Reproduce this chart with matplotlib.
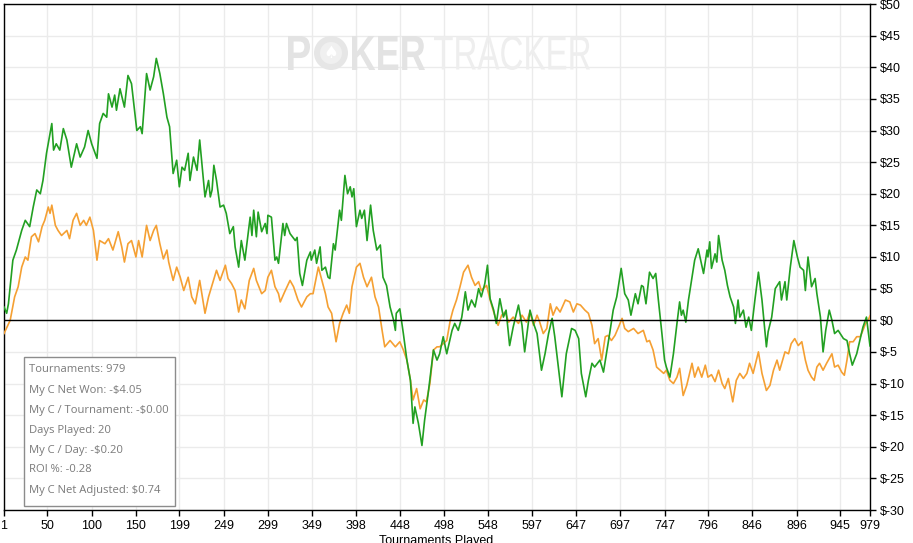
import numpy as np
import matplotlib
matplotlib.use('Agg')
import matplotlib.pyplot as plt
from matplotlib.patches import Rectangle, Circle, PathPatch
from matplotlib.textpath import TextPath
from matplotlib.font_manager import FontProperties
from matplotlib.transforms import Affine2D, IdentityTransform

plt.rcParams['font.family'] = ['Liberation Sans', 'DejaVu Sans']

# (tournament, cumulative $)
net_won = [
    (1, 2.1), (4, 1.1), (6, 2.6), (11, 9.5), (15, 11.1), (21, 14.2), (25, 15.8), (30, 14.8), (34, 17.9), (38, 20.6),
    (42, 20.0), (45, 22.1), (49, 26.4), (55, 31.1), (57, 26.9), (60, 27.9), (64, 26.9), (68, 30.3), (72, 28.5), (77, 24.2),
    (83, 27.9), (87, 25.8), (92, 27.4), (96, 30.0), (100, 27.9), (106, 25.6), (109, 31.1), (113, 32.7), (117, 32.1), (119, 35.8),
    (123, 33.7), (126, 35.6), (128, 33.2), (132, 36.6), (137, 33.7), (141, 38.7), (145, 37.4), (151, 30.0), (155, 30.6), (157, 29.5),
    (162, 39.0), (166, 36.4), (170, 38.5), (173, 41.4), (177, 39.0), (181, 35.8), (185, 32.1), (188, 30.6), (192, 23.2), (196, 25.3),
    (199, 21.1), (202, 24.2), (205, 23.7), (209, 26.4), (211, 22.1), (215, 25.8), (219, 23.7), (222, 28.5), (228, 19.5), (232, 22.1),
    (234, 19.5), (236, 20.6), (238, 24.5), (241, 22.1), (245, 17.9), (249, 18.2), (252, 16.9), (256, 13.7), (260, 14.8), (262, 11.6),
    (266, 8.4), (269, 12.6), (273, 9.5), (279, 16.3), (281, 13.4), (283, 17.4), (286, 13.2), (288, 17.1), (292, 14.0), (296, 15.3),
    (298, 13.7), (299, 16.6), (303, 16.3), (307, 9.5), (309, 10.0), (311, 9.0), (316, 15.3), (318, 13.4), (320, 15.3), (324, 13.7),
    (330, 12.6), (332, 13.1), (335, 7.4), (338, 5.5), (343, 9.5), (347, 10.8), (348, 9.5), (352, 11.1), (354, 9.0), (358, 11.6),
    (360, 7.9), (364, 8.4), (367, 6.8), (369, 6.6), (373, 12.1), (375, 11.1), (380, 17.4), (382, 15.8), (386, 22.9), (389, 20.0),
    (392, 21.1), (394, 19.5), (396, 20.8), (399, 14.8), (403, 17.4), (405, 16.1), (408, 17.4), (411, 12.6), (415, 18.2), (418, 14.2),
    (422, 11.1), (426, 11.9), (429, 6.8), (433, 5.5), (437, 2.1), (441, 0.0), (443, -1.6), (444, 1.1), (448, 1.8), (452, -2.1),
    (456, -6.3), (460, -9.5), (463, -16.3), (465, -13.7), (469, -16.3), (473, -19.8), (476, -15.8), (480, -11.6), (486, -4.7), (490, -6.3),
    (493, -5.3), (497, -2.6), (501, -5.3), (507, -1.6), (510, -0.5), (514, -1.6), (518, 0.5), (522, 4.5), (525, 1.6), (529, 3.2),
    (533, 2.1), (537, 5.0), (540, 3.7), (544, 5.8), (547, 8.7), (550, 3.4), (554, 1.6), (557, -0.5), (561, 3.4), (565, 0.5),
    (568, 1.6), (572, -4.0), (576, -1.1), (582, 2.4), (586, -0.8), (589, -5.0), (595, 1.6), (599, -0.5), (603, -2.1), (608, -7.9),
    (612, -5.3), (616, -2.1), (620, 0.3), (623, -2.6), (631, -12.1), (636, -5.3), (642, -1.3), (646, -1.6), (650, -2.9), (653, -8.4),
    (658, -12.1), (661, -9.5), (665, -6.8), (668, -7.4), (674, -6.3), (678, -8.2), (682, -4.7), (685, -2.1), (689, 1.6), (693, 3.7),
    (698, 8.2), (702, 4.2), (706, 3.2), (709, 0.8), (714, 4.2), (717, 2.6), (721, 5.5), (723, 5.3), (726, 2.6), (730, 7.6),
    (734, 6.6), (737, 7.4), (740, 3.2), (744, -2.1), (747, -6.3), (749, -7.4), (753, -9.0), (757, -5.3), (761, -0.5), (764, 2.9),
    (766, 0.8), (768, 1.6), (771, -0.3), (774, 3.2), (778, 6.8), (781, 9.5), (785, 11.3), (789, 8.7), (791, 7.4), (795, 11.1),
    (796, 10.0), (798, 12.4), (800, 8.2), (804, 10.5), (806, 9.2), (808, 13.4), (812, 9.5), (815, 7.9), (818, 5.5), (821, 3.7),
    (825, 2.1), (827, -0.5), (830, 3.2), (832, 0.5), (836, 1.6), (839, -1.1), (842, 0.5), (845, -1.6), (849, 3.2), (853, 7.6),
    (857, 3.2), (862, -4.2), (864, -1.8), (868, 0.5), (872, 5.0), (877, 6.1), (879, 3.2), (883, 6.1), (885, 3.2), (889, 8.4),
    (893, 12.6), (897, 10.0), (900, 8.4), (904, 7.9), (906, 4.7), (909, 10.0), (913, 5.3), (917, 6.6), (919, 4.2), (923, 0.5),
    (926, -5.0), (929, -1.6), (933, 1.6), (936, 0.0), (939, -2.1), (943, -1.6), (949, -2.9), (953, -3.2), (956, -5.3), (959, -7.1),
    (964, -5.3), (968, -2.9), (971, -1.1), (975, 0.5), (979, -4.05),
]

net_adjusted = [
    (1, -2.1), (8, 0.0), (13, 3.7), (17, 5.3), (21, 8.4), (25, 10.0), (28, 9.5), (32, 13.2), (36, 13.7), (40, 12.4),
    (44, 14.8), (47, 15.8), (51, 17.9), (53, 16.9), (55, 18.2), (59, 15.0), (62, 14.2), (66, 13.4), (72, 14.2), (75, 12.9),
    (79, 15.8), (83, 16.9), (87, 15.0), (91, 15.8), (94, 15.0), (98, 16.3), (102, 14.2), (106, 9.5), (109, 12.6), (115, 12.1),
    (119, 12.9), (124, 11.1), (130, 14.0), (134, 11.6), (137, 9.2), (141, 12.1), (145, 12.6), (150, 10.0), (153, 12.6), (157, 10.0),
    (162, 15.0), (166, 12.6), (170, 14.2), (173, 15.0), (177, 12.1), (181, 9.7), (185, 11.1), (187, 9.2), (192, 6.3), (196, 8.4),
    (200, 6.8), (204, 4.7), (209, 6.8), (213, 3.7), (217, 2.6), (222, 6.3), (228, 1.1), (232, 3.7), (237, 6.0), (241, 7.9),
    (245, 6.3), (251, 8.7), (254, 6.6), (258, 5.8), (262, 4.7), (266, 1.3), (269, 3.2), (273, 1.8), (278, 6.3), (283, 8.2),
    (286, 6.3), (292, 4.2), (296, 4.7), (299, 6.8), (303, 7.9), (307, 5.3), (311, 4.2), (313, 2.9), (318, 4.5), (324, 6.3),
    (328, 5.3), (333, 3.2), (337, 2.1), (343, 3.7), (347, 4.2), (350, 4.2), (356, 8.4), (360, 6.3), (364, 4.2), (367, 2.1),
    (371, 1.1), (376, -3.4), (380, -0.5), (384, 1.1), (388, 2.4), (391, 1.1), (394, 5.3), (399, 8.4), (403, 9.0), (407, 6.8),
    (411, 5.3), (416, 6.8), (420, 3.7), (424, 2.1), (428, -1.6), (431, -4.2), (437, -3.2), (443, -4.2), (448, -3.4), (452, -4.7),
    (456, -6.3), (460, -9.5), (463, -12.6), (467, -10.8), (471, -14.0), (475, -12.6), (478, -12.9), (482, -10.0), (486, -4.7), (490, -4.2),
    (493, -4.2), (497, -3.7), (501, -3.2), (505, 0.0), (508, 1.6), (512, 3.2), (516, 5.3), (520, 7.6), (525, 8.7), (529, 6.8),
    (533, 5.5), (537, 6.1), (540, 4.7), (546, 5.5), (550, 3.2), (554, 1.3), (559, -0.8), (563, 0.8), (567, 1.3), (571, -0.3),
    (576, 0.5), (582, -0.5), (586, 0.8), (591, -0.3), (595, 1.3), (599, -0.8), (603, 0.8), (606, -0.3), (610, -2.1), (614, -1.3),
    (618, 2.6), (621, 0.8), (625, 2.1), (629, 1.3), (635, 3.2), (640, 2.9), (644, 1.3), (648, 2.6), (652, 2.4), (657, 1.6),
    (661, 1.1), (665, -0.8), (668, -3.7), (672, -2.9), (676, -6.3), (680, -2.6), (683, -2.4), (687, -3.2), (691, -2.4), (695, -1.1),
    (699, 0.3), (702, -1.3), (706, -1.8), (712, -1.3), (717, -2.1), (723, -1.6), (727, -3.4), (730, -3.2), (734, -4.7), (738, -7.4),
    (742, -7.9), (746, -8.4), (749, -7.9), (753, -9.5), (757, -10.0), (761, -9.0), (764, -7.6), (768, -11.9), (772, -10.3), (778, -6.8),
    (781, -9.0), (785, -7.4), (789, -9.0), (793, -7.1), (796, -9.0), (800, -8.6), (804, -9.7), (808, -7.9), (812, -10.0), (815, -10.8),
    (819, -9.2), (824, -12.9), (828, -9.5), (832, -8.4), (836, -9.2), (840, -8.4), (843, -6.8), (847, -8.4), (853, -5.0), (857, -8.4),
    (862, -11.1), (866, -10.3), (870, -7.9), (874, -6.3), (877, -7.9), (883, -5.0), (887, -5.3), (890, -3.7), (894, -2.9), (898, -4.0),
    (902, -3.4), (906, -6.3), (909, -7.9), (913, -9.0), (916, -9.5), (919, -7.4), (922, -6.8), (926, -7.9), (930, -6.8), (936, -5.3),
    (939, -7.4), (943, -7.1), (947, -8.2), (950, -8.7), (953, -6.3), (956, -3.4), (960, -3.4), (964, -2.6), (968, -2.6), (971, -1.6),
    (974, -0.5), (977, 0.0), (979, 0.7),
]

x_ticks = [1, 50, 100, 150, 199, 249, 299, 349, 398, 448, 498, 548, 597, 647, 697, 747, 796, 846, 896, 945, 979]
y_ticks = list(range(-30, 51, 5))

stats = [
    'Tournaments: 979',
    'My C Net Won: -$4.05',
    'My C / Tournament: -$0.00',
    'Days Played: 20',
    'My C / Day: -$0.20',
    'ROI %: -0.28',
    'My C Net Adjusted: $0.74',
]

W, H = 913, 543
fig = plt.figure(figsize=(W / 100, H / 100), dpi=100)
ax = fig.add_axes([4 / W, 1 - 510 / H, 866 / W, 506 / H])

gx, gy = np.array(net_won).T
ox, oy = np.array(net_adjusted).T

ax.plot(ox, oy, color='#f5a033', lw=1.2, zorder=3)
ax.plot(gx, gy, color='#22a022', lw=1.2, zorder=4)
ax.axhline(0, color='black', lw=1.0, zorder=5)

ax.set_xlim(1, 979)
ax.set_ylim(-30, 50)
ax.set_xticks(x_ticks)
ax.set_xticklabels([str(t) for t in x_ticks])
ax.set_yticks(y_ticks)
ax.set_yticklabels(['$%d' % v for v in y_ticks])
ax.yaxis.tick_right()
ax.tick_params(axis='both', direction='out', length=4, width=1, color='black',
               labelsize=9, labelcolor='black', pad=3)
ax.set_axisbelow(True)
ax.grid(True, color='#ebebeb', lw=1)
for s in ax.spines.values():
    s.set_color('black')
    s.set_linewidth(1)


def watermark(word, left, right, top, bottom, color, bold):
    # squeeze a text path into a pixel box (y from the top of the picture)
    fp = FontProperties(family='Liberation Sans', weight='bold' if bold else 'normal')
    tp = TextPath((0, 0), word, size=50, prop=fp)
    ext = tp.get_extents()
    sx = (right - left) / ext.width
    sy = (bottom - top) / ext.height
    tr = Affine2D().translate(-ext.x0, -ext.y0).scale(sx, sy).translate(left, H - bottom)
    fig.patches.append(PathPatch(tr.transform_path(tp), transform=IdentityTransform(),
                                 facecolor=color, edgecolor='none', zorder=0))


watermark('P', 288, 310, 36, 70, '#e3e3e3', True)
fig.patches.append(Circle((331, H - 53), 17, transform=IdentityTransform(),
                          facecolor='#e6e6e6', edgecolor='none', zorder=0))
fig.patches.append(Circle((331, H - 53), 11, transform=IdentityTransform(),
                          facecolor='#f0f0f0', edgecolor='none', zorder=0))
fig.text(331 / W, 1 - 53 / H, u'\u2660', fontsize=12, color='white', ha='center', va='center',
         family='DejaVu Sans')
watermark('KER', 352, 425, 36, 70, '#e3e3e3', True)
watermark('TRACKER', 434, 590, 36, 70, '#eeeeee', False)

# stats box
box = Rectangle((24 / W, 1 - 506 / H), 151 / W, 149 / H, transform=fig.transFigure,
                facecolor='white', edgecolor='#8c8c8c', lw=1, zorder=10)
fig.patches.append(box)
for i, line in enumerate(stats):
    fig.text(29 / W, 1 - (370 + 20 * i) / H, line, fontsize=8.1, color='#7a7a7a',
             family=['Open Sans', 'DejaVu Sans'], ha='left', va='center', zorder=11)

fig.text(436 / W, 1 - 535 / H, 'Tournaments Played', fontsize=9, color='black',
         ha='center', va='top')

fig.savefig('out.png', dpi=100)
